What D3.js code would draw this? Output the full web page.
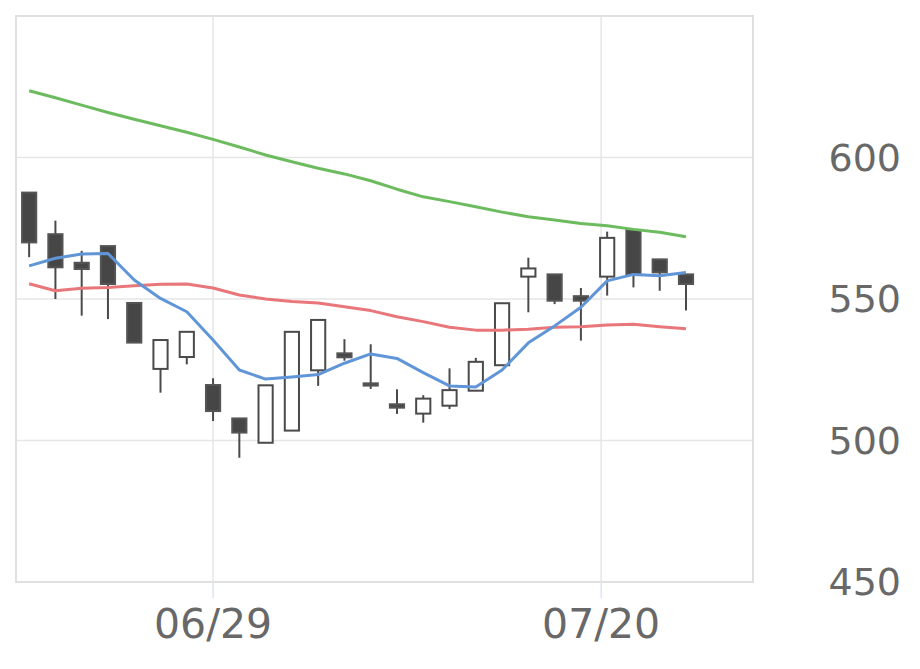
<!DOCTYPE html>
<html>
<head>
<meta charset="utf-8">
<script src="https://cdn.jsdelivr.net/npm/d3@7"></script>
<style>
  body { margin: 0; background: #fff; }
  svg { display: block; font-family: "DejaVu Sans", sans-serif; }
</style>
</head>
<body>
<script>
const width = 920,
    height = 669

// daily candles, 2015
const dates = ['06/18', '06/19', '06/22', '06/23', '06/24', '06/25', '06/26', '06/29', '06/30', '07/01',
    '07/02', '07/03', '07/06', '07/07', '07/08', '07/09', '07/10', '07/13', '07/14', '07/15',
    '07/16', '07/17', '07/21', '07/22', '07/23', '07/24']
const open = [587.6, 572.9, 562.8, 568.7, 548.6, 525.3, 529.5, 519.6, 507.8, 499.2,
    503.5, 524.8, 530.8, 520.2, 512.8, 509.5, 512.3, 517.6, 526.6, 557.9,
    558.7, 551.0, 557.9, 574.4, 564.0, 558.7]
const high = [587.6, 577.7, 567.0, 568.7, 548.6, 535.5, 538.4, 522.0, 507.8, 519.5,
    538.4, 542.6, 535.8, 534.0, 518.1, 516.0, 525.5, 529.2, 548.5, 564.6,
    558.7, 553.9, 573.8, 574.4, 564.0, 558.7]
const low = [564.8, 550.0, 544.1, 542.9, 534.6, 516.9, 526.9, 506.9, 493.9, 499.2,
    503.5, 519.3, 528.2, 518.2, 509.4, 506.3, 511.1, 517.6, 526.6, 545.3,
    548.2, 535.3, 551.2, 554.1, 552.9, 545.9]
const close = [570.0, 561.2, 560.6, 555.3, 534.6, 535.5, 538.4, 510.4, 502.8, 519.5,
    538.4, 542.6, 529.4, 519.4, 511.6, 514.8, 517.8, 527.8, 548.5, 560.8,
    549.4, 549.4, 571.6, 558.5, 559.4, 555.3]

const ma5 = [561.7, 564.4, 565.9, 566.1, 556.7, 550.2, 545.5, 535.5, 524.9, 521.7,
    522.4, 523.3, 527.3, 530.6, 529.0, 524.0, 519.3, 518.9, 524.9, 534.5,
    540.5, 547.1, 556.4, 558.7, 558.2, 559.4]
const ma25 = [555.4, 552.9, 553.8, 554.1, 554.7, 555.2, 555.3, 553.9, 551.4, 550.0,
    549.1, 548.6, 547.3, 545.9, 543.7, 542.0, 540.0, 539.0, 539.0, 539.3,
    540.0, 540.2, 540.8, 541.1, 540.2, 539.5]
const ma75 = [623.6, 621.1, 618.5, 615.9, 613.5, 611.2, 608.9, 606.4, 603.7, 600.9,
    598.5, 596.2, 594.2, 591.8, 588.8, 586.1, 584.4, 582.6, 580.7, 579.1,
    577.9, 576.7, 575.9, 574.6, 573.6, 572.0]

const yTicks = [450, 500, 550, 600]
const xTickLabels = ['06/29', '07/20']
const xTickPos = [7, 21.77]

const margin = { top: 16, right: 167, bottom: 87, left: 16 }

const svg = d3.select('body').append('svg')
    .attr('width', width)
    .attr('height', height)

const x = d3.scaleLinear()
    .domain([-0.5, 27.55])
    .range([margin.left, width - margin.right])

const y = d3.scaleLinear()
    .domain([450, 650])
    .range([height - margin.bottom, margin.top])

const candles = dates.map((d, i) => {
    return { date: d, i: i, o: open[i], h: high[i], l: low[i], c: close[i] }
})

// grid
svg.selectAll('.hgrid')
    .data(yTicks.slice(1))
    .enter()
    .append('line')
        .attr('x1', x.range()[0])
        .attr('x2', x.range()[1])
        .attr('y1', d => y(d))
        .attr('y2', d => y(d))
        .style('stroke', '#e6e6e6')
        .style('stroke-width', 1.5)

svg.selectAll('.vgrid')
    .data(xTickPos)
    .enter()
    .append('line')
        .attr('x1', d => x(d))
        .attr('x2', d => x(d))
        .attr('y1', y.range()[1])
        .attr('y2', y.range()[0])
        .style('stroke', '#e6e6e6')
        .style('stroke-width', 1.5)

svg.append('rect')
    .attr('x', x.range()[0])
    .attr('y', y.range()[1])
    .attr('width', x.range()[1] - x.range()[0])
    .attr('height', y.range()[0] - y.range()[1])
    .style('fill', 'none')
    .style('stroke', '#e0e0e0')
    .style('stroke-width', 2)

// x ticks + labels
svg.selectAll('.xtick')
    .data(xTickPos)
    .enter()
    .append('line')
        .attr('x1', d => x(d))
        .attr('x2', d => x(d))
        .attr('y1', y.range()[0] + 1)
        .attr('y2', y.range()[0] + 16)
        .style('stroke', '#ccd6eb')
        .style('stroke-width', 1)

svg.selectAll('.xlabel')
    .data(xTickLabels)
    .enter()
    .append('text')
        .attr('x', (d, i) => x(xTickPos[i]))
        .attr('y', 638)
        .attr('text-anchor', 'middle')
        .style('font-size', '41px')
        .style('fill', '#686868')
        .text(d => d)

svg.selectAll('.ylabel')
    .data(yTicks)
    .enter()
    .append('text')
        .attr('x', 901)
        .attr('y', d => y(d) + 13)
        .attr('text-anchor', 'end')
        .style('font-size', '38px')
        .style('fill', '#686868')
        .text(d => d)

// candles
const bw = (x(1) - x(0)) * 0.54

const g = svg.append('g')

g.selectAll('.wick')
    .data(candles)
    .enter()
    .append('line')
        .attr('x1', d => x(d.i))
        .attr('x2', d => x(d.i))
        .attr('y1', d => y(d.h))
        .attr('y2', d => y(d.l))
        .style('stroke', '#4a4a4a')
        .style('stroke-width', 2)

g.selectAll('.body')
    .data(candles)
    .enter()
    .append('rect')
        .attr('x', d => x(d.i) - bw / 2)
        .attr('y', d => y(Math.max(d.o, d.c)))
        .attr('width', bw)
        .attr('height', d => Math.max(1.5, y(Math.min(d.o, d.c)) - y(Math.max(d.o, d.c))))
        .style('fill', d => d.c >= d.o ? '#fff' : '#464646')
        .style('stroke', d => d.c >= d.o ? '#4a4a4a' : '#555')
        .style('stroke-width', 2)

// moving averages
const line = d3.line()
    .x((d, i) => x(i))
    .y(d => y(d))

const maSeries = [
    { values: ma75, color: '#6cbb5e' },
    { values: ma25, color: '#e8767a' },
    { values: ma5, color: '#6096d8' }
]

svg.selectAll('.ma')
    .data(maSeries)
    .enter()
    .append('path')
        .attr('d', d => line(d.values))
        .style('fill', 'none')
        .style('stroke', d => d.color)
        .style('stroke-width', 3)
        .style('stroke-linejoin', 'round')
</script>
</body>
</html>
